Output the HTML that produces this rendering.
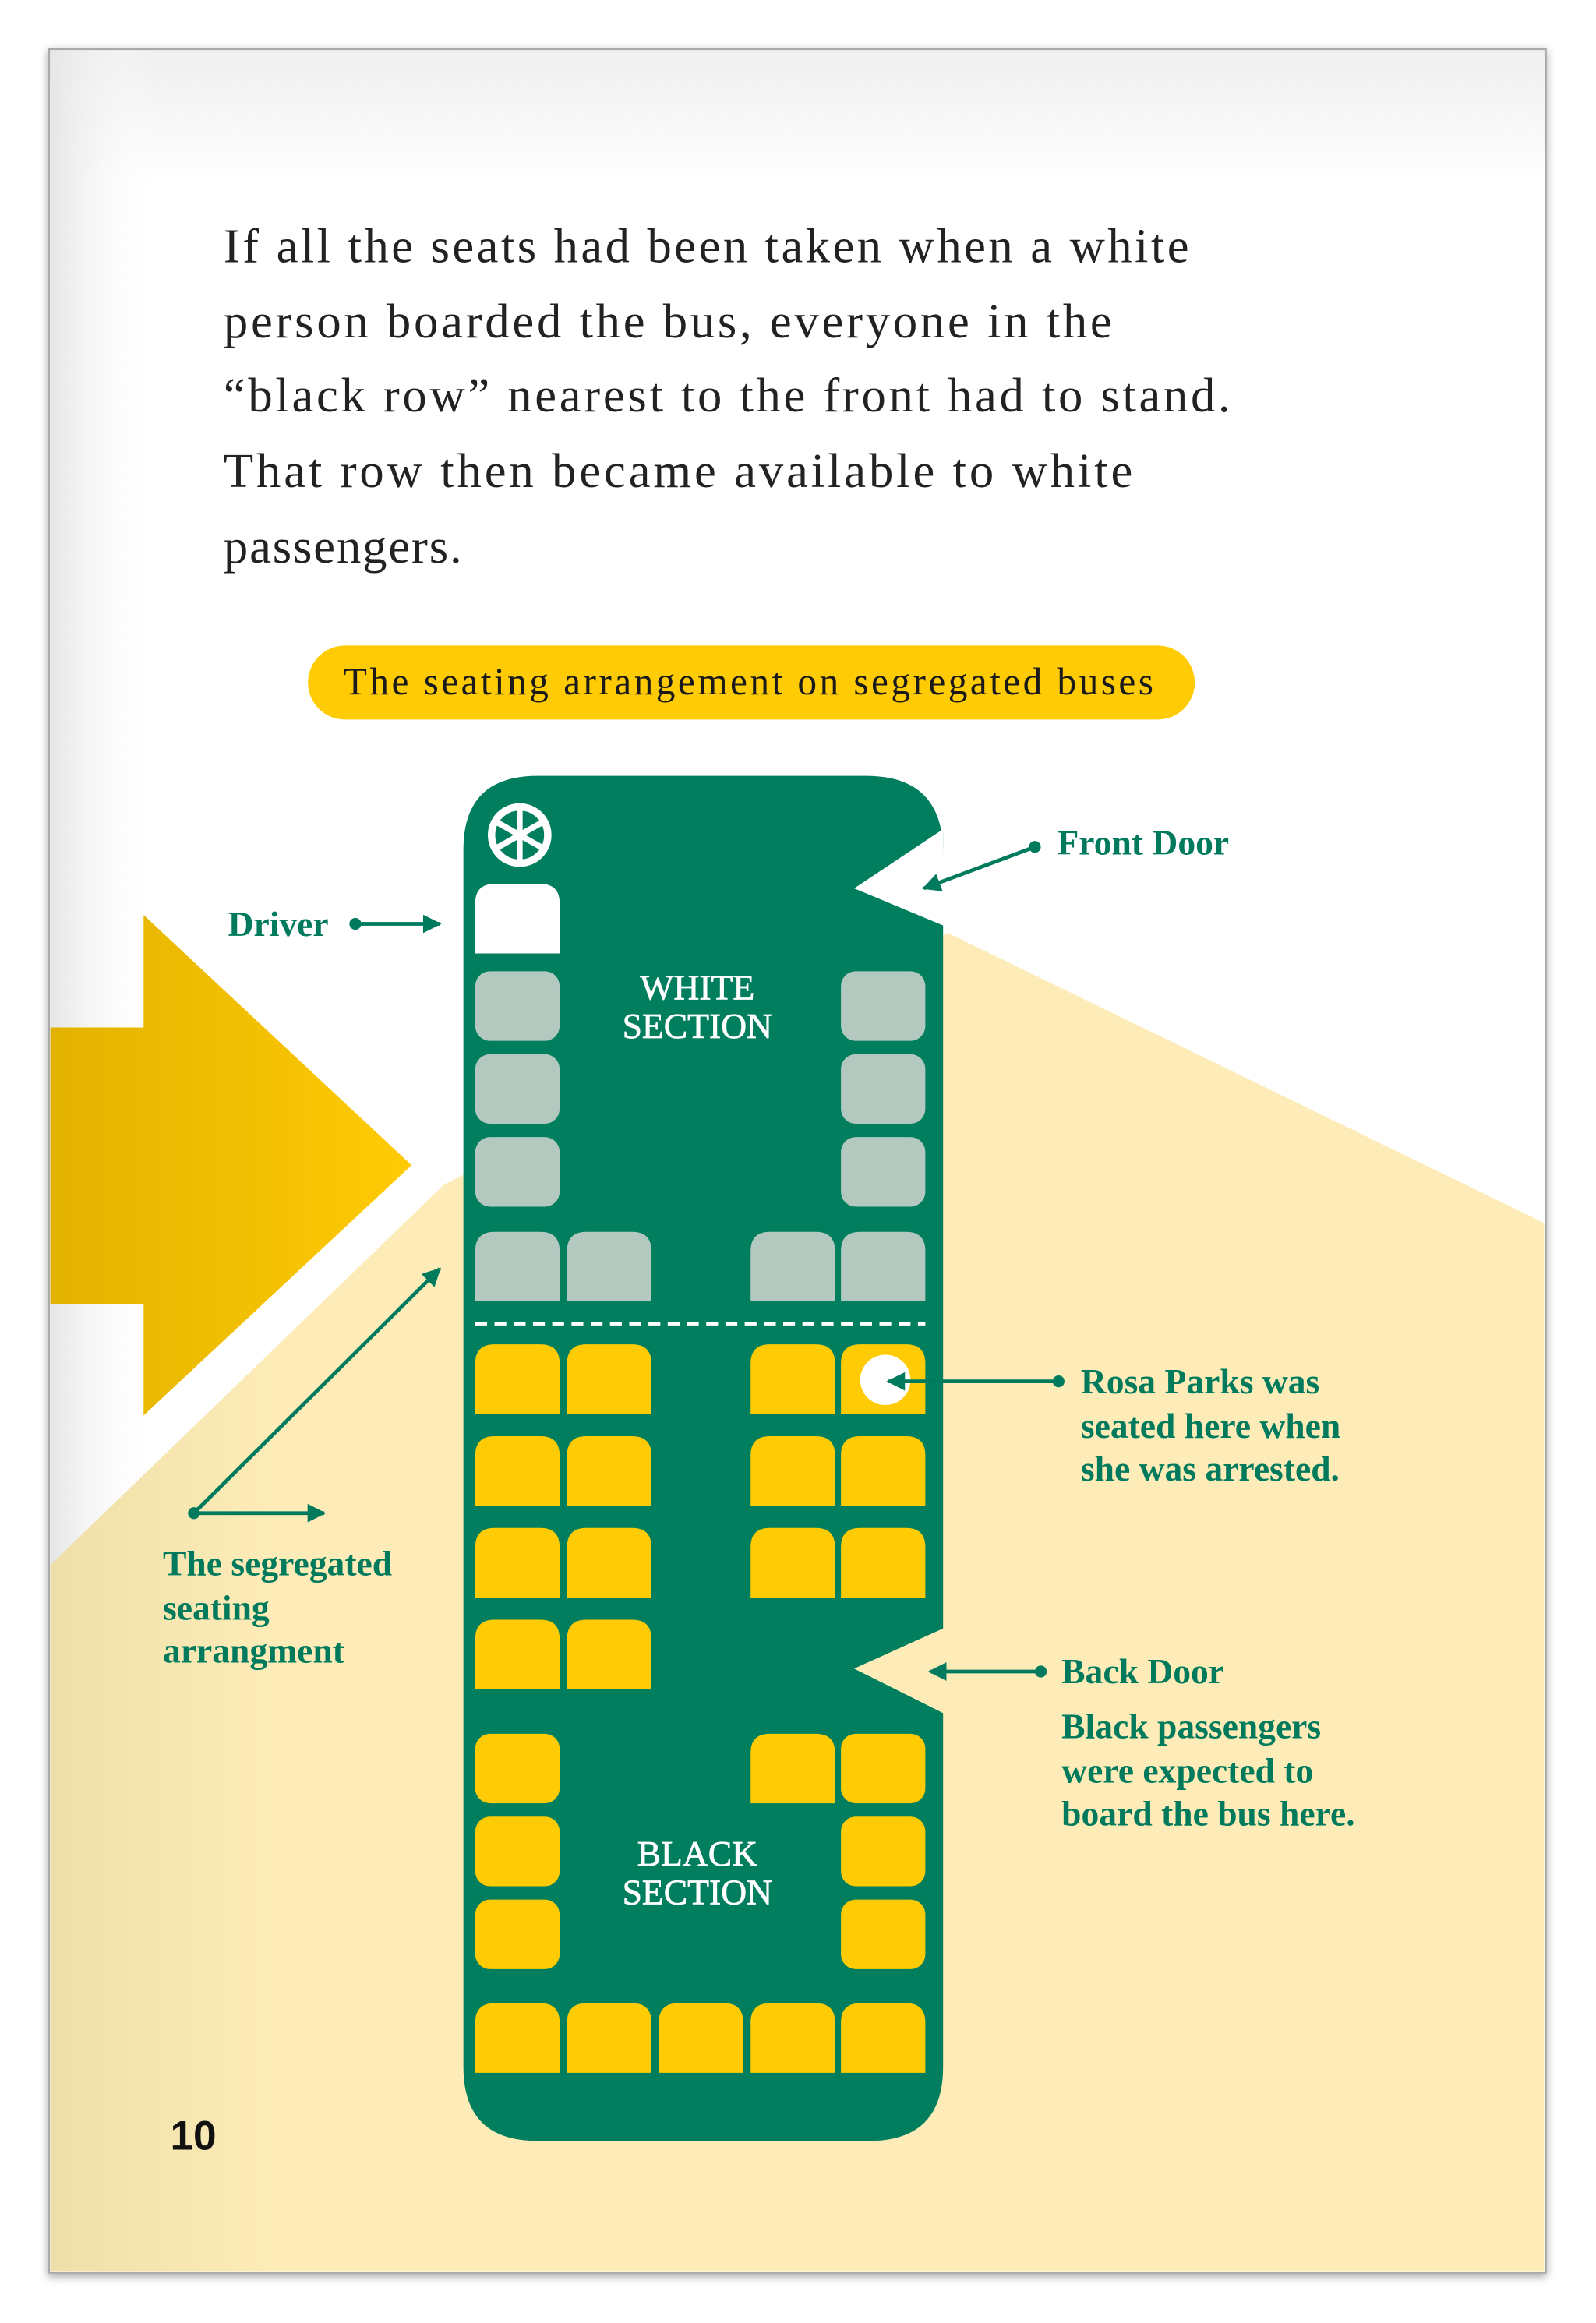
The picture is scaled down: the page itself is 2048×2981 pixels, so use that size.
<!DOCTYPE html>
<html><head><meta charset="utf-8"><style>
html,body{margin:0;padding:0;background:#fff;}
svg{display:block;}
</style></head><body>
<svg width="2048" height="2981" viewBox="0 0 1078 1569" preserveAspectRatio="none" xmlns="http://www.w3.org/2000/svg">
<defs>
<linearGradient id="pg" x1="0" y1="0" x2="0" y2="1"><stop offset="0" stop-color="#efefef"/><stop offset="0.06" stop-color="#fff"/></linearGradient>
<linearGradient id="pl" x1="0" y1="0" x2="1" y2="0"><stop offset="0" stop-color="#e6e6e6"/><stop offset="0.07" stop-color="#fff" stop-opacity="0"/></linearGradient>
<linearGradient id="ar" x1="0" y1="0" x2="1" y2="0"><stop offset="0" stop-color="#e2b200"/><stop offset="1" stop-color="#ffcb05"/></linearGradient>
<linearGradient id="ly" x1="0" y1="0" x2="1" y2="0"><stop offset="0" stop-color="#eedfa8"/><stop offset="0.15" stop-color="#fdecb8"/></linearGradient>
<marker id="ah" viewBox="0 0 10 10" refX="9" refY="5" markerWidth="5" markerHeight="5" orient="auto"><path d="M0,0 L10,5 L0,10 z" fill="#007a5c"/></marker>
<filter id="sh"><feDropShadow dx="0" dy="2" stdDeviation="3" flood-color="#000" flood-opacity="0.35"/></filter>
</defs>
<rect x="0" y="0" width="1078" height="1569" fill="#fff"/>
<rect x="33" y="33" width="1011" height="1502" fill="url(#pg)" stroke="#aaa" stroke-width="1.5" filter="url(#sh)"/>
<rect x="34" y="34" width="1009" height="1500" fill="url(#pl)"/>
<polygon points="34,1057 300,800 640,630 1043,826 1043,1534 34,1534" fill="url(#ly)"/>
<polygon points="34,694 97,694 97,618 278,787 97,956 97,881 34,881" fill="url(#ar)"/>

<g font-family="Liberation Serif, serif" font-size="33" fill="#222" lengthAdjust="spacing">
<text x="151" y="177" textLength="652">If all the seats had been taken when a white</text>
<text x="151" y="228" textLength="600">person boarded the bus, everyone in the</text>
<text x="151" y="278" textLength="680">“black row” nearest to the front had to stand.</text>
<text x="151" y="329" textLength="614">That row then became available to white</text>
<text x="151" y="380" textLength="161">passengers.</text>
</g>
<rect x="208" y="436" width="599" height="50" rx="25" fill="#ffcb05"/>
<text x="232" y="469" font-family="Liberation Serif, serif" font-size="26" fill="#1a1a1a" textLength="547" lengthAdjust="spacing">The seating arrangement on segregated buses</text>

<path d="M363,524 H585 Q637,524 637,576 V562 L577,600 L637,625 V1100 L577,1127 L637,1157 V1396 Q637,1446 587,1446 H363 Q313,1446 313,1396 V574 Q313,524 363,524 Z" fill="#007e5e"/>
<polygon points="637,560 577,600 637,625" fill="#fff"/>
<polygon points="637,1100 577,1127 637,1157" fill="#fdecb8"/>
<circle cx="351" cy="564" r="19" fill="none" stroke="#fff" stroke-width="5"/>
<g stroke="#fff" stroke-width="4"><line x1="351" y1="546" x2="351" y2="582"/><line x1="335" y1="555" x2="367" y2="573"/><line x1="335" y1="573" x2="367" y2="555"/></g>
<path d="M321,644 V610 Q321,597 334,597 H365 Q378,597 378,610 V644 Z" fill="#fff"/>
<g fill="#b3c9c0">
<rect x="321" y="656" width="57" height="47" rx="10"/><rect x="321" y="712" width="57" height="47" rx="10"/><rect x="321" y="768" width="57" height="47" rx="10"/>
<rect x="568" y="656" width="57" height="47" rx="10"/><rect x="568" y="712" width="57" height="47" rx="10"/><rect x="568" y="768" width="57" height="47" rx="10"/>
<path d="M321,879 V845 Q321,832 334,832 H365 Q378,832 378,845 V879Z"/><path d="M383,879 V845 Q383,832 396,832 H427 Q440,832 440,845 V879Z"/>
<path d="M507,879 V845 Q507,832 520,832 H551 Q564,832 564,845 V879Z"/><path d="M568,879 V845 Q568,832 581,832 H612 Q625,832 625,845 V879Z"/>
</g>
<line x1="321" y1="894" x2="625" y2="894" stroke="#fff" stroke-width="2.5" stroke-dasharray="8,5"/>
<g fill="#ffcb05">
<path id="s" d="M0,47 V13 Q0,0 13,0 H44 Q57,0 57,13 V47Z" transform="translate(321,908)"/>
<use href="#s" x="62"/><use href="#s" x="186"/><use href="#s" x="247"/>
<use href="#s" y="62"/><use href="#s" x="62" y="62"/><use href="#s" x="186" y="62"/><use href="#s" x="247" y="62"/>
<use href="#s" y="124"/><use href="#s" x="62" y="124"/><use href="#s" x="186" y="124"/><use href="#s" x="247" y="124"/>
<use href="#s" y="186"/><use href="#s" x="62" y="186"/>
<rect x="321" y="1171" width="57" height="47" rx="10"/><rect x="321" y="1227" width="57" height="47" rx="10"/><rect x="321" y="1283" width="57" height="47" rx="10"/>
<use href="#s" x="186" y="263"/><rect x="568" y="1171" width="57" height="47" rx="10"/>
<rect x="568" y="1227" width="57" height="47" rx="10"/><rect x="568" y="1283" width="57" height="47" rx="10"/>
<use href="#s" y="445"/><use href="#s" x="62" y="445"/><use href="#s" x="124" y="445"/><use href="#s" x="186" y="445"/><use href="#s" x="247" y="445"/>
</g>
<circle cx="598" cy="932" r="17" fill="#fff"/>
<g font-family="Liberation Serif, serif" font-size="24" fill="#fff" text-anchor="middle" stroke="#fff" stroke-width="0.4">
<text x="471" y="675">WHITE</text><text x="471" y="701">SECTION</text>
<text x="471" y="1260">BLACK</text><text x="471" y="1286">SECTION</text>
</g>
<g stroke="#007a5c" stroke-width="2.5" fill="none" marker-end="url(#ah)">
<line x1="240" y1="624" x2="297" y2="624"/>
<line x1="699" y1="572" x2="624" y2="600"/>
<line x1="715" y1="933" x2="600" y2="933"/>
<line x1="703" y1="1129" x2="628" y2="1129"/>
<line x1="131" y1="1022" x2="219" y2="1022"/>
<line x1="131" y1="1022" x2="297" y2="857"/>
</g>
<g fill="#007a5c"><circle cx="240" cy="624" r="4"/><circle cx="699" cy="572" r="4"/><circle cx="715" cy="933" r="4"/><circle cx="703" cy="1129" r="4"/><circle cx="131" cy="1022" r="4"/></g>
<g font-family="Liberation Serif, serif" font-size="24" font-weight="bold" fill="#007a5c">
<text x="154" y="632">Driver</text>
<text x="714" y="577">Front Door</text>
<text x="730" y="941">Rosa Parks was</text><text x="730" y="971">seated here when</text><text x="730" y="1000">she was arrested.</text>
<text x="717" y="1137">Back Door</text>
<text x="717" y="1174">Black passengers</text><text x="717" y="1204">were expected to</text><text x="717" y="1233">board the bus here.</text>
<text x="110" y="1064">The segregated</text><text x="110" y="1094">seating</text><text x="110" y="1123">arrangment</text>
</g>
<text x="115" y="1452" font-family="Liberation Sans, sans-serif" font-size="28" font-weight="bold" fill="#111">10</text>
</svg>
</body></html>
